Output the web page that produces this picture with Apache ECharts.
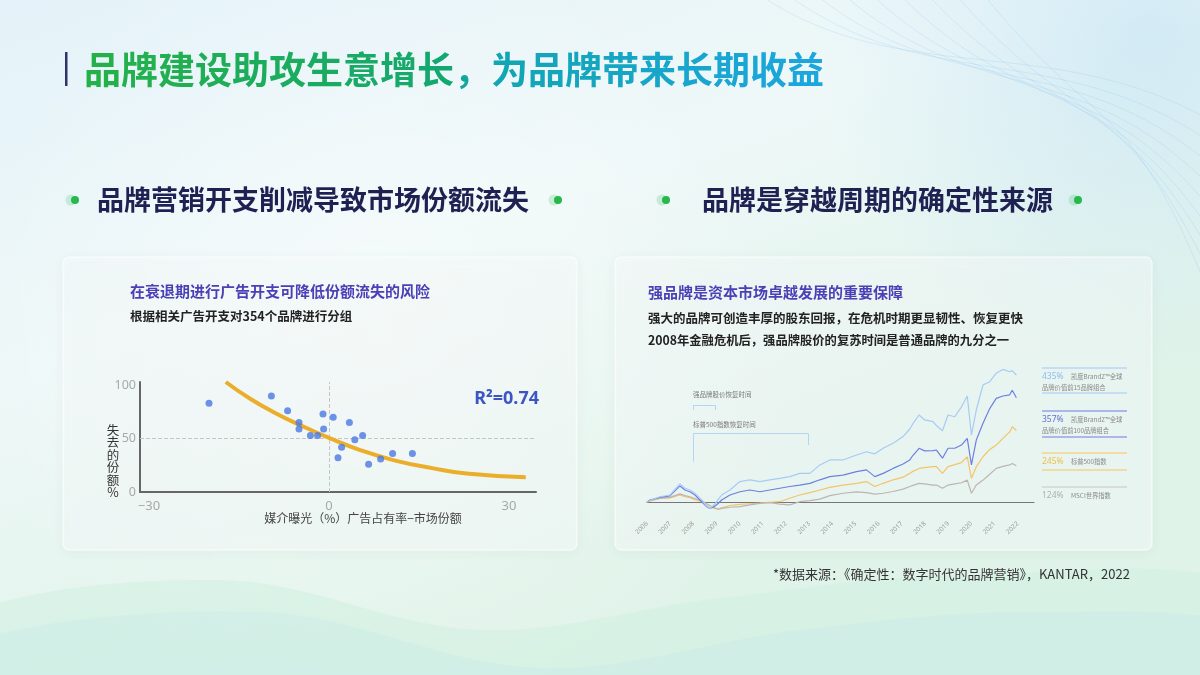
<!DOCTYPE html>
<html><head><meta charset="utf-8">
<script src="https://cdn.jsdelivr.net/npm/echarts@6/dist/echarts.min.js"></script>
<style>html,body{margin:0;padding:0;width:1200px;height:675px;overflow:hidden;background:#e9f5f7}#c{width:1200px;height:675px}</style>
</head><body><div id="c"></div>
<script>
// ---------------- data ----------------
// left: share lost vs. excess share of voice
const sovX = [-20,-9.6,-6.9,-5,-5,-3.1,-1.9,-1,-0.9,0.7,2.1,1.5,3.4,4.3,5.6,6.6,8.6,10.6,13.9];
const shareLost = [83,90,76,65,59,53,53,73,59,70,42,32,65,49,53,26,31,36,36];
const fitX = [-17.2,-13.2,-9.3,-4.8,0.2,5.2,10.7,17.4,22.9,32.8];
const fitY = [103,87.5,75,62.6,50.2,39.3,29.9,22.1,17.4,13.7];
const scatterXTicks = [-30,0,30];
const scatterYTicks = [0,50,100];
const rSquared = 'R²=0.74';

// right: cumulative returns (%)
const years = [2006.0,2006.13,2006.56,2006.99,2007.42,2007.64,2007.85,2008.07,2008.36,2008.57,2008.72,2008.93,2009.07,2009.22,2009.58,2010.01,2010.44,2010.87,2011.30,2011.73,2012.16,2012.59,2013.03,2013.46,2013.89,2014.46,2015.04,2015.47,2015.83,2016.19,2016.62,2017.05,2017.34,2017.48,2017.74,2017.98,2018.34,2018.49,2018.75,2018.99,2019.28,2019.57,2019.82,2020.0,2020.21,2020.5,2020.79,2021.07,2021.36,2021.65,2021.76,2021.94];
const top15 = [0,5,18,24,62,47,41,30,7,-14,-22,-7,8,24,41,70,76,70,76,81,87,98,98,127,144,144,161,172,165,184,201,224,250,269,298,281,275,262,244,298,292,326,363,229,315,401,412,441,454,446,450,435];
const top100 = [0,7,16,21,55,41,35,24,1,-16,-22,-14,-5,7,24,35,41,35,41,47,53,58,64,76,87,92,104,110,87,98,115,130,144,160,184,175,176,178,150,184,184,195,218,127,212,270,320,355,363,367,383,357];
const sp500 = [0,3,12,14,24,18,15,8,2,-12,-18,-22,-24,-20,-12,-8,-6,-4,-1,1,13,24,32,41,50,58,64,70,53,64,76,85,98,105,115,118,121,121,98,121,128,135,155,81,121,155,180,195,218,240,258,245];
const msci = [0,5,13,16,28,22,18,12,5,-6,-12,-20,-25,-22,-18,-16,-10,-5,-2,-7,-10,1,5,10,22,30,35,32,27,30,36,44,53,57,64,62,58,58,47,58,62,66,75,30,58,75,95,115,122,127,132,124];
const yearTicks = [2006,2007,2008,2009,2010,2011,2012,2013,2014,2015,2016,2017,2018,2019,2020,2021,2022];
const recoveryStart = 2008, brandRecovered = 2008.93, spRecovered = 2012.95;
const legendPct = ['435%','357%','245%','124%'];
const legendNames = [['凯度BrandZ™全球','品牌价值前15品牌组合'],['凯度BrandZ™全球','品牌价值前100品牌组合'],['标普500指数'],['MSCI世界指数']];

// ---------------- texts ----------------
const mainTitle = '品牌建设助攻生意增长，为品牌带来长期收益';
const leftHeading = '品牌营销开支削减导致市场份额流失';
const rightHeading = '品牌是穿越周期的确定性来源';
const leftCardTitle = '在衰退期进行广告开支可降低份额流失的风险';
const leftCardSub = '根据相关广告开支对354个品牌进行分组';
const rightCardTitle = '强品牌是资本市场卓越发展的重要保障';
const rightCardLine1 = '强大的品牌可创造丰厚的股东回报，在危机时期更显韧性、恢复更快';
const rightCardLine2 = '2008年金融危机后，强品牌股价的复苏时间是普通品牌的九分之一';
const footnote = '*数据来源：《确定性：数字时代的品牌营销》，KANTAR，2022';

const FONT = "'Noto Sans CJK SC','Noto Sans',sans-serif";
const G = echarts.graphic;
const chart = echarts.init(document.getElementById('c'), null, {renderer:'canvas', width:1200, height:675});

const gfx = [];
// background
gfx.push({type:'rect', z:-100, silent:true, shape:{x:0,y:0,width:1200,height:675},
  style:{fill:new G.LinearGradient(0,0,0.2,1,[{offset:0,color:'#e4f2f9'},{offset:0.5,color:'#eef8f8'},{offset:1,color:'#e0f3e9'}])}});
gfx.push({type:'circle', z:-99, silent:true, shape:{cx:1150,cy:40,r:330},
  style:{fill:new G.RadialGradient(0.5,0.5,0.5,[{offset:0,color:'rgba(190,224,245,0.55)'},{offset:1,color:'rgba(190,224,245,0)'}])}});
gfx.push({type:'circle', z:-99, silent:true, shape:{cx:380,cy:330,r:420},
  style:{fill:new G.RadialGradient(0.5,0.5,0.5,[{offset:0,color:'rgba(255,255,255,0.45)'},{offset:1,color:'rgba(255,255,255,0)'}])}});
for (let i = 0; i < 9; i++) {
  gfx.push({type:'bezierCurve', z:-98, silent:true,
    shape:{x1:760+i*28,y1:-5,cpx1:900+i*25,cpy1:90+i*6,cpx2:1050+i*10,cpy2:30+i*8,x2:1210,y2:120+i*22},
    style:{stroke:'rgba(130,190,235,0.22)', lineWidth:1, fill:null}});
}
gfx.push({type:'polygon', z:-97, silent:true, shape:{smooth:0.35, points:[[-60,625],[220,580],[480,630],[720,598],[960,575],[1260,590],[1260,720],[-60,720]]},
  style:{fill:'rgba(205,240,222,0.45)'}});
gfx.push({type:'polygon', z:-97, silent:true, shape:{smooth:0.35, points:[[-60,650],[260,612],[540,668],[800,630],[1030,612],[1260,632],[1260,720],[-60,720]]},
  style:{fill:'rgba(200,236,232,0.4)'}});

// title (colour sweeps from green to cyan-blue, character by character)
const titleStops = [[0,[37,177,74]],[0.47,[20,168,110]],[0.55,[17,166,178]],[1,[28,166,222]]];
function titleColor(t) {
  for (let k = 1; k < titleStops.length; k++) {
    if (t <= titleStops[k][0]) {
      const a = titleStops[k-1], b = titleStops[k], f = (t - a[0]) / (b[0] - a[0]);
      return 'rgb(' + a[1].map((v,j)=>Math.round(v + (b[1][j]-v)*f)).join(',') + ')';
    }
  }
  return 'rgb(28,166,222)';
}
const titleChars = Array.from(mainTitle);
const titleRich = {};
titleChars.forEach((ch,i) => { titleRich['c'+i] = {fill:titleColor(i/(titleChars.length-1)), fontSize:37, fontWeight:'bold', fontFamily:FONT}; });
gfx.push({type:'rect', z:10, shape:{x:65,y:52,width:2.5,height:34}, style:{fill:'#2e336a'}});
gfx.push({type:'text', z:10, x:84, y:70, style:{text:titleChars.map((ch,i)=>'{c'+i+'|'+ch+'}').join(''), rich:titleRich,
  fontSize:37, fontWeight:'bold', fontFamily:FONT, verticalAlign:'middle', align:'left'}});

// section headings
function heading(text, x, dotL, dotR) {
  [dotL, dotR].forEach(d => {
    gfx.push({type:'circle', z:10, shape:{cx:d-4, cy:200, r:5.5}, style:{fill:'rgba(60,190,100,0.22)'}});
    gfx.push({type:'circle', z:11, shape:{cx:d, cy:200, r:4}, style:{fill:'#27b84d'}});
  });
  gfx.push({type:'text', z:10, x:x, y:200, style:{text, fontSize:27, fontWeight:'bold', fontFamily:FONT, fill:'#1e2152', verticalAlign:'middle'}});
}
heading(leftHeading, 97, 75, 558);
heading(rightHeading, 702, 666, 1078);

// cards
[[63,257,514,293],[615,257,537,293]].forEach(c => {
  gfx.push({type:'rect', z:-50, silent:true, shape:{x:c[0],y:c[1],width:c[2],height:c[3],r:6},
    style:{fill:'rgba(255,255,255,0.42)', stroke:'rgba(255,255,255,0.85)', lineWidth:1,
      shadowBlur:14, shadowColor:'rgba(20,90,100,0.10)', shadowOffsetY:2}});
});

// card texts
gfx.push({type:'text', z:10, x:130, y:291, style:{text:leftCardTitle, fontSize:15, fontWeight:'bold', fontFamily:FONT, fill:'#4b40b6', verticalAlign:'middle'}});
gfx.push({type:'text', z:10, x:130, y:316, style:{text:leftCardSub, fontSize:12.5, fontWeight:'bold', fontFamily:FONT, fill:'#222', verticalAlign:'middle'}});
gfx.push({type:'text', z:10, x:648, y:292, style:{text:rightCardTitle, fontSize:15, fontWeight:'bold', fontFamily:FONT, fill:'#4b40b6', verticalAlign:'middle'}});
gfx.push({type:'text', z:10, x:648, y:318, style:{text:rightCardLine1, fontSize:12.5, fontWeight:'bold', fontFamily:FONT, fill:'#222', verticalAlign:'middle'}});
gfx.push({type:'text', z:10, x:648, y:340, style:{text:rightCardLine2, fontSize:12.3, fontWeight:'bold', fontFamily:FONT, fill:'#222', verticalAlign:'middle'}});

// left chart extras
gfx.push({type:'text', z:10, x:113, y:424, style:{text:'失\n去\n的\n份\n额\n%', fontSize:12.5, lineHeight:12.4, fontFamily:FONT, fill:'#333', align:'center', verticalAlign:'top'}});
gfx.push({type:'text', z:10, x:363, y:518, style:{text:'媒介曝光（%）广告占有率−市场份额', fontSize:12, fontFamily:FONT, fill:'#444', align:'center', verticalAlign:'middle'}});
gfx.push({type:'text', z:10, x:539, y:399, style:{text:rSquared, fontSize:18, fontWeight:'bold', fontFamily:"'Noto Sans','Liberation Sans',sans-serif", fill:'#3b55c4', align:'right', verticalAlign:'middle'}});

// right chart annotations
gfx.push({type:'text', z:10, x:693, y:395, style:{text:'强品牌股价恢复时间', fontSize:6.5, fontFamily:FONT, fill:'#7a7a7a', verticalAlign:'middle'}});
gfx.push({type:'text', z:10, x:693, y:425, style:{text:'标普500指数恢复时间', fontSize:6.5, fontFamily:FONT, fill:'#7a7a7a', verticalAlign:'middle'}});

// right legend blocks
const lgTop = [368,411,453,487];
const lgBottom = [393,437,470,null];
const lgText = ['#8dbdf0','#6870d6','#efbf45','#b0b0b0'];
const lgLine = ['#b9d8f5','#9aa2e8','#f4d68a','#d4d4d4'];
legendPct.forEach((p, i) => {
  const t = lgTop[i];
  gfx.push({type:'line', z:10, shape:{x1:1042,y1:t,x2:1127,y2:t}, style:{stroke:lgLine[i], lineWidth:1.5}});
  if (lgBottom[i]) gfx.push({type:'line', z:10, shape:{x1:1042,y1:lgBottom[i],x2:1127,y2:lgBottom[i]}, style:{stroke:lgLine[i], lineWidth:1.5}});
  gfx.push({type:'text', z:10, x:1042, y:t+8.5, style:{text:p, fontSize:8.5, fontFamily:"'Noto Sans',sans-serif", fill:lgText[i], verticalAlign:'middle'}});
  gfx.push({type:'text', z:10, x:1071, y:t+8.5, style:{text:legendNames[i][0], fontSize:6.3, fontFamily:FONT, fill:'#8a8a8a', verticalAlign:'middle'}});
  if (legendNames[i][1]) gfx.push({type:'text', z:10, x:1042, y:t+19.5, style:{text:legendNames[i][1], fontSize:6.3, fontFamily:FONT, fill:'#8a8a8a', verticalAlign:'middle'}});
});

// footnote
gfx.push({type:'text', z:10, x:773, y:574, style:{text:footnote, fontSize:13, fontFamily:FONT, fill:'#333', verticalAlign:'middle'}});

const bracketStyle = {color:'#b4d6f2', width:1, type:'solid'};
const option = {
  animation:false,
  textStyle:{fontFamily:FONT},
  grid:[
    {left:140, top:382, width:396, height:110},
    {left:647, top:356, width:387, height:160.6}
  ],
  xAxis:[
    {type:'value', gridIndex:0, min:-31.5, max:34.5,
      axisLine:{show:true, onZero:false, lineStyle:{color:'#666', width:2}},
      axisTick:{show:false}, splitLine:{show:false},
      axisLabel:{customValues:scatterXTicks, color:'#a8a8a8', fontSize:13, margin:8, fontFamily:"'Noto Sans',sans-serif",
        formatter:v => v < 0 ? '−' + Math.abs(v) : String(v)}},
    {type:'value', gridIndex:1, min:2006, max:2022.7,
      axisLine:{show:true, onZero:true, lineStyle:{color:'#777', width:1}},
      axisTick:{show:false}, splitLine:{show:false},
      axisLabel:{customValues:yearTicks, rotate:45, fontSize:6.5, color:'#9a9a9a', margin:6, fontFamily:"'Noto Sans',sans-serif",
        formatter:v => String(v)}}
  ],
  yAxis:[
    {type:'value', gridIndex:0, min:0, max:103,
      axisLine:{show:true, onZero:false, lineStyle:{color:'#666', width:2}},
      axisTick:{show:false}, splitLine:{show:false},
      axisLabel:{customValues:scatterYTicks, color:'#a8a8a8', fontSize:12.5, margin:4, fontFamily:"'Noto Sans',sans-serif"}},
    {type:'value', gridIndex:1, min:-50, max:500, show:false, splitLine:{show:false}}
  ],
  series:[
    {type:'line', xAxisIndex:0, yAxisIndex:0, z:3, silent:true, smooth:0.5, showSymbol:false,
      data:fitX.map((x,i)=>[x, fitY[i]]),
      lineStyle:{color:'#eaae2b', width:4},
      markLine:{silent:true, z:1, symbol:'none', label:{show:false},
        lineStyle:{type:'dashed', color:'#c6c6c6', width:1},
        data:[{xAxis:0},{yAxis:50}]}},
    {type:'scatter', xAxisIndex:0, yAxisIndex:0, z:4, symbolSize:7,
      data:sovX.map((x,i)=>[x, shareLost[i]]),
      itemStyle:{color:'#4a78e2'}},
    {type:'line', name:'标普500指数', xAxisIndex:1, yAxisIndex:1, showSymbol:false, silent:true,
      data:years.map((y,i)=>[y, sp500[i]]), lineStyle:{color:'#f2c46b', width:1.2}},
    {type:'line', name:'MSCI世界指数', xAxisIndex:1, yAxisIndex:1, showSymbol:false, silent:true,
      data:years.map((y,i)=>[y, msci[i]]), lineStyle:{color:'#bdb5b2', width:1.2}},
    {type:'line', name:'前100品牌组合', xAxisIndex:1, yAxisIndex:1, showSymbol:false, silent:true,
      data:years.map((y,i)=>[y, top100[i]]), lineStyle:{color:'#6d80e2', width:1.2}},
    {type:'line', name:'前15品牌组合', xAxisIndex:1, yAxisIndex:1, showSymbol:false, silent:true,
      data:years.map((y,i)=>[y, top15[i]]), lineStyle:{color:'#a6ccf5', width:1.2},
      markLine:{silent:true, symbol:'none', label:{show:false}, lineStyle:bracketStyle,
        data:[
          [{coord:[recoveryStart,332]},{coord:[brandRecovered,332]}],
          [{coord:[recoveryStart,332]},{coord:[recoveryStart,315]}],
          [{coord:[brandRecovered,332]},{coord:[brandRecovered,315]}],
          [{coord:[recoveryStart,235]},{coord:[spRecovered,235]}],
          [{coord:[recoveryStart,235]},{coord:[recoveryStart,138]}],
          [{coord:[spRecovered,235]},{coord:[spRecovered,195]}]
        ]}}
  ],
  graphic:gfx
};
chart.setOption(option);
</script>
</body></html>
